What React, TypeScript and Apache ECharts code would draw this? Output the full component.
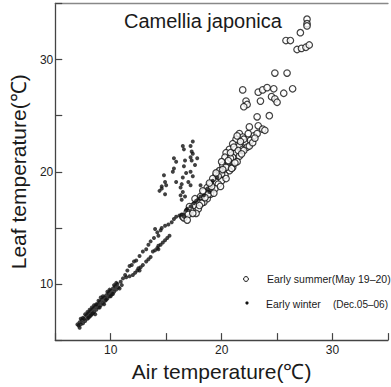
import React, { useEffect, useRef } from "react";
import * as echarts from "echarts";

const FONT = "'Liberation Sans', Arial, Helvetica, sans-serif";

const chartTitle = "Camellia japonica";
const xAxisName = "Air temperature(℃)";
const yAxisName = "Leaf temperature(℃)";
const labeledTicks = [10, 20, 30];
const legendSummer = "Early summer(May 19–20)";
const legendWinterName = "Early winter";
const legendWinterDate = "(Dec.05–06)";

// Early winter — main line (air, leaf)
const winterMain: number[][] = [
  [7.1, 6.3], [7.2, 6.6], [7.3, 6.4], [7.4, 6.8], [7.5, 6.5], [7.6, 6.9], [7.7, 6.7], [7.8, 7.2],
  [7.9, 6.9], [8.0, 7.4], [8.1, 7.1], [8.2, 7.6], [8.3, 7.3], [8.4, 7.8], [8.5, 7.5], [8.6, 8.0],
  [8.7, 7.7], [8.8, 8.2], [8.9, 7.9], [9.0, 8.4], [9.1, 8.1], [9.2, 8.6], [9.3, 8.3], [9.4, 8.8],
  [9.5, 8.5], [9.6, 9.0], [9.7, 8.7], [9.8, 9.2], [9.9, 8.9], [10.0, 9.4], [10.1, 9.1], [10.2, 9.6],
  [10.3, 9.3], [10.4, 9.8], [10.5, 9.5], [10.6, 10.0], [10.7, 9.7], [10.9, 10.2], [11.0, 9.9],
  [7.5, 7.0], [8.0, 7.0], [8.3, 7.9], [8.7, 8.2], [9.0, 7.9], [9.3, 8.9], [9.6, 8.6], [9.9, 9.5],
  [10.2, 9.1], [10.5, 10.1], [8.9, 8.5], [7.9, 7.5], [7.3, 6.9], [7.7, 7.3], [8.1, 7.7], [8.5, 8.1],
  [8.6, 7.3], [9.1, 8.8], [9.4, 8.2], [9.7, 9.3], [10.0, 8.9], [10.3, 9.9], [10.8, 9.6], [7.2, 6.1],
  [7.0, 6.4], [8.2, 7.2], [8.4, 7.4],
];

// Early winter — upper branch
const winterUpper: number[][] = [
  [11.1, 10.5], [11.3, 10.8], [11.5, 11.2], [11.7, 11.6], [11.9, 11.7], [12.1, 12.0], [12.3, 12.1],
  [12.6, 12.5], [12.9, 12.9], [13.2, 13.1], [13.4, 13.5], [13.6, 13.8], [13.9, 14.1], [14.2, 14.6],
  [14.5, 14.8],
];

// Early winter — lower branch
const winterLower: number[][] = [
  [11.4, 10.6], [11.7, 10.7], [12.0, 10.8], [12.2, 11.0], [12.4, 11.2], [12.5, 11.4], [12.7, 11.5],
  [12.9, 11.7], [13.2, 12.0], [13.4, 12.2], [13.6, 12.4], [13.8, 12.9], [14.0, 13.0], [14.2, 13.2],
  [14.3, 13.4], [14.5, 13.5], [14.7, 13.7], [14.9, 13.9], [15.1, 14.1], [15.3, 14.3], [12.6, 11.2],
  [14.3, 13.1],
];

// Early winter — continuation into the summer band
const winterTop: number[][] = [
  [14.0, 14.9], [14.3, 14.3], [14.6, 15.0], [14.9, 15.2], [15.2, 15.3], [15.5, 15.5], [15.7, 15.8],
  [15.9, 16.0], [16.2, 16.1], [16.4, 16.2], [16.6, 16.0], [16.8, 16.6], [16.9, 16.7], [17.2, 16.9],
  [17.5, 17.2], [17.7, 17.4], [17.9, 17.6], [18.1, 17.8], [18.4, 17.9], [18.1, 18.8], [18.7, 18.5],
  [19.2, 19.2], [18.9, 18.2], [19.6, 19.5],
];

// Early winter — scattered cloud
const winterCloud: number[][] = [
  [17.4, 22.7], [17.2, 22.3], [16.5, 22.3], [16.6, 22.0], [17.4, 21.6], [17.2, 21.3], [17.8, 21.2],
  [15.7, 21.2], [15.9, 20.9], [16.6, 20.5], [15.7, 20.3], [15.6, 20.0], [16.8, 19.9], [17.2, 20.0],
  [14.8, 19.7], [15.9, 19.1], [17.0, 19.1], [14.9, 19.1], [17.2, 18.8], [14.6, 18.5], [14.4, 18.3],
  [14.9, 18.0], [16.5, 18.2], [16.3, 17.9], [16.7, 17.8], [16.4, 17.5], [14.6, 18.7], [16.7, 21.0],
  [17.4, 19.6], [16.5, 19.5], [15.0, 18.8], [17.6, 20.6], [16.3, 18.6], [16.4, 18.9], [17.3, 21.8],
  [17.3, 21.0],
];

// Early summer — dense band
const summerBand: number[][] = [
  [22.9, 23.2], [23.2, 23.4], [21.6, 23.4], [21.3, 22.9], [21.9, 23.1], [21.0, 22.5], [21.6, 22.3],
  [22.2, 22.6], [22.6, 22.8], [20.7, 22.0], [20.4, 21.7], [21.3, 21.7], [21.9, 22.0], [22.3, 22.2],
  [20.3, 21.3], [21.0, 21.3], [21.6, 21.4], [20.6, 20.9], [21.4, 20.9], [20.1, 20.6], [21.0, 20.4],
  [19.8, 20.1], [20.7, 20.1], [19.5, 19.7], [20.3, 19.7], [19.2, 19.4], [20.0, 19.2], [19.0, 18.9],
  [19.7, 18.9], [18.7, 18.6], [19.4, 18.5], [18.4, 18.2], [19.0, 18.0], [18.1, 17.8], [18.7, 17.6],
  [17.8, 17.3], [18.4, 17.3], [17.5, 17.0], [17.9, 16.7], [17.2, 16.6], [17.7, 16.3], [16.5, 16.0],
  [16.9, 16.4], [16.6, 15.9], [17.0, 16.2], [16.9, 15.7], [19.1, 18.7], [20.0, 19.8], [20.8, 21.2],
  [21.1, 22.2], [22.0, 22.9], [22.4, 23.4], [18.8, 18.0], [18.2, 17.2], [19.7, 19.6], [20.4, 20.4],
  [17.4, 16.3], [17.1, 16.9], [18.0, 17.0], [17.6, 17.6], [18.5, 17.7], [18.3, 18.3], [19.3, 18.1],
  [18.9, 19.0], [19.9, 18.7], [19.5, 19.9], [20.4, 19.4], [20.1, 20.2], [20.9, 20.3], [20.6, 21.0],
  [21.2, 20.8], [21.5, 21.9], [20.8, 21.7], [22.0, 21.9], [21.7, 22.7], [22.5, 22.3], [21.4, 23.2],
  [22.8, 22.6], [23.0, 23.0], [21.8, 21.6], [20.0, 20.9],
];

// Early summer — upper scatter
const summerUpper: number[][] = [
  [27.7, 33.6], [27.7, 33.2], [27.7, 33.0], [27.1, 32.4], [25.8, 31.7], [26.2, 31.7], [26.8, 30.9],
  [27.2, 31.0], [27.6, 31.1], [27.9, 31.3], [24.8, 28.8], [25.9, 28.8], [21.9, 27.3], [23.3, 27.1],
  [23.7, 27.3], [24.1, 27.5], [24.7, 27.4], [25.6, 27.0], [26.4, 27.4], [22.2, 26.3], [22.3, 26.0],
  [22.0, 25.8], [23.5, 26.3], [24.5, 26.7], [24.8, 26.5], [25.0, 26.2], [23.2, 24.9], [24.3, 25.0],
  [22.5, 24.0], [23.3, 24.1], [23.7, 23.8], [23.9, 23.7],
];

const winterData = [...winterMain, ...winterUpper, ...winterLower, ...winterTop, ...winterCloud];
const summerData = [...summerBand, ...summerUpper];

export default function App() {
  const ref = useRef<HTMLDivElement>(null);
  useEffect(() => {
    document.body.style.margin = "0";
    if (!ref.current) return;
    const chart = echarts.init(ref.current, undefined, { renderer: "svg" });
    const fmt = (v: number) => (labeledTicks.includes(v) ? String(v) : "");
    const axisCommon = {
      type: "value" as const,
      min: 5,
      max: 35,
      interval: 5,
      splitLine: { show: false },
      axisLine: { show: true, onZero: false, lineStyle: { color: "#444", width: 1.3 } },
      axisTick: { show: true, inside: true, length: 7, lineStyle: { color: "#444", width: 1.2 } },
      nameLocation: "middle" as const,
      nameTextStyle: { fontSize: 21, color: "#1a1a1a", fontFamily: FONT },
    };
    chart.setOption({
      animation: false,
      backgroundColor: "#ffffff",
      title: {
        text: chartTitle,
        left: 124,
        top: 11,
        padding: 0,
        textStyle: { fontSize: 20, fontWeight: "normal", color: "#1a1a1a", fontFamily: FONT },
      },
      grid: { left: 49, top: 3.5, width: 345, height: 339 },
      xAxis: [
        {
          ...axisCommon,
          name: xAxisName,
          nameGap: 17,
          axisLabel: { formatter: fmt, margin: 4, fontSize: 12, color: "#222", fontFamily: FONT },
        },
        {
          type: "value",
          position: "top",
          min: 5,
          max: 35,
          interval: 5,
          splitLine: { show: false },
          axisLine: { show: true, onZero: false, lineStyle: { color: "#888", width: 1.3 } },
          axisTick: { show: false },
          axisLabel: { show: false },
        },
      ],
      yAxis: {
        ...axisCommon,
        name: yAxisName,
        nameGap: 21,
        axisLabel: { formatter: fmt, margin: 2, fontSize: 12, color: "#222", fontFamily: FONT },
      },
      series: [
        {
          name: "Early summer",
          type: "scatter",
          symbol: "circle",
          symbolSize: 6.5,
          itemStyle: { color: "#ffffff", borderColor: "#111", borderWidth: 1.2 },
          data: summerData,
          z: 2,
        },
        {
          name: "Early winter",
          type: "scatter",
          symbol: "circle",
          symbolSize: 4,
          itemStyle: { color: "#111" },
          data: winterData,
          z: 3,
        },
      ],
      graphic: [
        { type: "circle", shape: { cx: 246, cy: 279, r: 2.4 }, style: { fill: "#fff", stroke: "#111", lineWidth: 1 } },
        { type: "text", x: 267, y: 279, style: { text: legendSummer, fontSize: 10.5, fill: "#1a1a1a", fontFamily: FONT, verticalAlign: "middle" } },
        { type: "circle", shape: { cx: 247, cy: 303, r: 1.6 }, style: { fill: "#111" } },
        { type: "text", x: 266, y: 304, style: { text: legendWinterName, fontSize: 10.5, fill: "#1a1a1a", fontFamily: FONT, verticalAlign: "middle" } },
        { type: "text", x: 388, y: 304, style: { text: legendWinterDate, fontSize: 10, fill: "#1a1a1a", fontFamily: FONT, verticalAlign: "middle", align: "right" } },
      ],
    });
    return () => chart.dispose();
  }, []);
  return <div ref={ref} style={{ width: 391, height: 387 }} />;
}
